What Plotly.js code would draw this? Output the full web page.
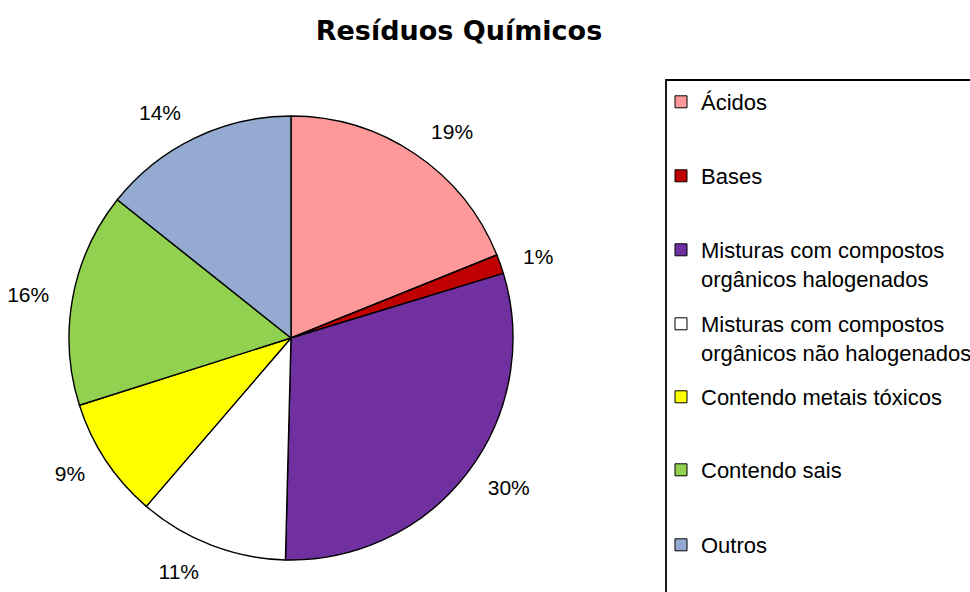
<!DOCTYPE html>
<html><head><meta charset="utf-8">
<script src="https://cdn.plot.ly/plotly-3.0.1.min.js"></script>
<style>html,body{margin:0;padding:0;background:#fff}</style>
</head><body><div id="chart" style="width:970px;height:592px"></div>
<script>
const categories = ["Ácidos","Bases","Misturas com compostos orgânicos halogenados","Misturas com compostos orgânicos não halogenados","Contendo metais tóxicos","Contendo sais","Outros"];
const legendLabels = ["Ácidos","Bases","Misturas com compostos<br>orgânicos halogenados","Misturas com compostos<br>orgânicos não halogenados","Contendo metais tóxicos","Contendo sais","Outros"];
const values = [18.9, 1.4, 30.1, 10.9, 8.8, 15.6, 14.3];
const colors = ["#FF9999","#C00000","#7030A0","#FFFFFF","#FFFF00","#92D050","#95AAD0"];

const W = 970, H = 592;
const px = v => v / W, py = v => 1 - v / H;
const FONT = "Liberation Sans, Arial, sans-serif";

const traces = [{
  type: "pie",
  labels: categories,
  values: values,
  sort: false,
  direction: "clockwise",
  rotation: 0,
  marker: {colors: colors, line: {color: "#000", width: 1.4}},
  textinfo: "none",
  domain: {x: [px(69), px(513)], y: [py(560), py(116)]},
  showlegend: false,
  hoverinfo: "label+percent"
}, {
  // label ring: same slices, transparent, slightly larger so the % labels sit further out
  type: "pie",
  labels: categories,
  values: values,
  sort: false,
  direction: "clockwise",
  rotation: 0,
  marker: {colors: colors.map(() => "rgba(0,0,0,0)"), line: {width: 0}},
  texttemplate: "%{percent:.0%}",
  textposition: "outside",
  textfont: {family: FONT, size: 21, color: "#000"},
  domain: {x: [px(51), px(531)], y: [py(580), py(96)]},
  showlegend: false,
  hoverinfo: "skip"
}];

const legendRowY = [102, 176, 250, 324, 397, 470, 545];
const layout = {
  width: W, height: H,
  margin: {l: 0, r: 0, t: 0, b: 0, autoexpand: false},
  paper_bgcolor: "#fff", plot_bgcolor: "rgba(0,0,0,0)",
  title: {text: "<b>Resíduos Químicos</b>", x: px(459), xanchor: "center", y: py(31), yanchor: "middle", yref: "container",
          font: {family: "DejaVu Sans, sans-serif", size: 27, color: "#000"}},
  xaxis: {visible: false, range: [1, 2]}, yaxis: {visible: false, range: [1, 2]},
  shapes: [{type: "rect", xref: "paper", yref: "paper", x0: px(666), x1: px(990), y0: py(620), y1: py(80),
            line: {color: "#000", width: 1.8}, fillcolor: "rgba(0,0,0,0)"}],
  showlegend: true
};

categories.forEach((c, i) => {
  const key = i === 0 ? "legend" : "legend" + (i + 1);
  traces.push({
    type: "bar", x: [null], y: [null], name: legendLabels[i],
    marker: {color: colors[i], line: {color: "#000", width: 1}},
    legend: key, showlegend: true, hoverinfo: "skip"
  });
  layout[key] = {
    x: px(661), xanchor: "left",
    y: py(legendRowY[i] - 21), yanchor: "top",
    bgcolor: "rgba(0,0,0,0)", borderwidth: 0, valign: "top",
    font: {family: FONT, size: 22, color: "#000"}
  };
});

Plotly.newPlot("chart", traces, layout, {displayModeBar: false, staticPlot: true});
</script></body></html>
